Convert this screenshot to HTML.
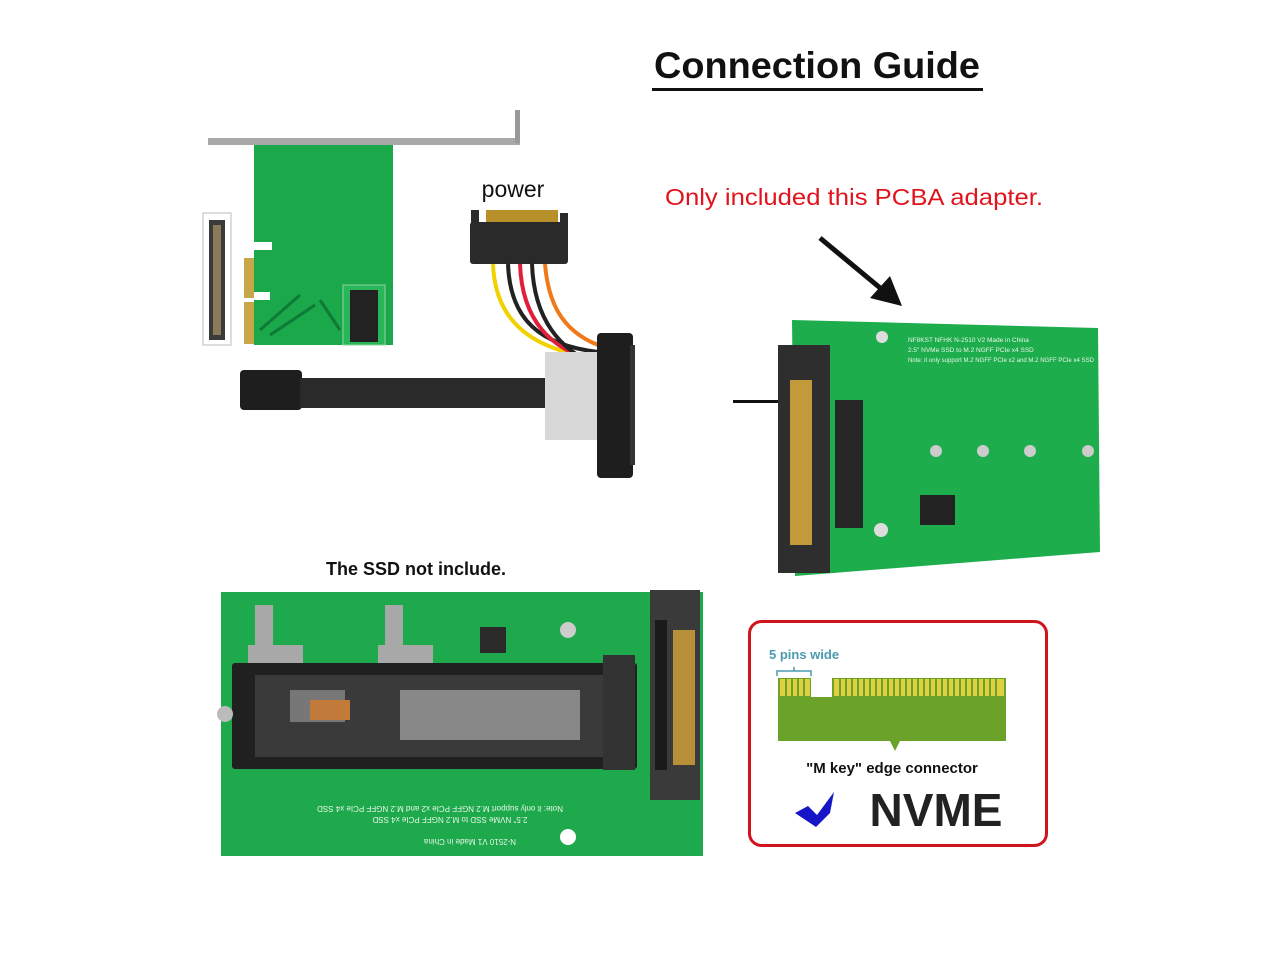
<!DOCTYPE html>
<html><head><meta charset="utf-8"><style>
html,body{margin:0;padding:0;background:#fff;}
svg{display:block;}
text{font-family:"Liberation Sans",sans-serif;}
</style></head><body>
<svg width="1280" height="960" viewBox="0 0 1280 960" xmlns="http://www.w3.org/2000/svg">
<rect width="1280" height="960" fill="#fff"/>
<text x="817" y="78" font-size="37" font-weight="bold" text-anchor="middle" fill="#111" textLength="326" lengthAdjust="spacingAndGlyphs">Connection Guide</text>
<rect x="652" y="88" width="331" height="3" fill="#111"/>

<rect x="208" y="138" width="312" height="7" fill="#a8a8a8"/>
<rect x="515" y="110" width="5" height="33" fill="#999"/>
<path d="M254 145 H393 V345 H254 V300 H270 V292 H254 V250 H272 V242 H254 Z" fill="#1aa84a"/>
<rect x="244" y="258" width="10" height="40" fill="#c8a64a"/>
<rect x="244" y="302" width="10" height="42" fill="#c8a64a"/>
<rect x="343" y="285" width="42" height="60" fill="#29b65a" stroke="#8fd49f"/>
<rect x="350" y="290" width="28" height="52" fill="#222"/>
<path d="M260 330 L300 295 M270 335 L315 305 M320 300 L340 330" stroke="#0f7a35" stroke-width="3"/>
<rect x="203" y="213" width="28" height="132" fill="#fff" stroke="#bbb"/>
<rect x="209" y="220" width="16" height="120" fill="#3a3a3a"/>
<rect x="213" y="225" width="8" height="110" fill="#8a7a5a"/>

<text x="513" y="197" font-size="23" text-anchor="middle" fill="#111">power</text>
<rect x="486" y="210" width="72" height="16" fill="#b8902a"/>
<rect x="470" y="222" width="98" height="42" rx="3" fill="#2a2a2a"/>
<rect x="471" y="210" width="8" height="16" fill="#2a2a2a"/>
<rect x="560" y="213" width="8" height="14" fill="#2a2a2a"/>
<path d="M493 264 C495 320 530 350 598 358" stroke="#f2d100" stroke-width="4" fill="none"/>
<path d="M508 264 C510 320 540 345 598 352" stroke="#222" stroke-width="4" fill="none"/>
<path d="M520 264 C522 320 550 350 598 362" stroke="#e0203a" stroke-width="4" fill="none"/>
<path d="M532 264 C534 320 560 350 598 366" stroke="#222" stroke-width="4" fill="none"/>
<path d="M545 264 C548 300 560 330 598 345" stroke="#f07a1a" stroke-width="4" fill="none"/>
<rect x="240" y="370" width="62" height="40" rx="4" fill="#1e1e1e"/>
<rect x="300" y="378" width="250" height="30" fill="#2a2a2a"/>
<rect x="545" y="352" width="55" height="88" fill="#d8d8d8"/>
<rect x="597" y="333" width="36" height="145" rx="4" fill="#1e1e1e"/>
<rect x="630" y="345" width="5" height="120" fill="#333"/>
<rect x="733" y="400" width="45" height="3" fill="#111"/>

<text x="854" y="205" font-size="23" text-anchor="middle" fill="#e0141c" textLength="378" lengthAdjust="spacingAndGlyphs">Only included this PCBA adapter.</text>
<line x1="820" y1="238" x2="885" y2="292" stroke="#111" stroke-width="5"/>
<polygon points="902,306 870,298 890,276" fill="#111"/>

<polygon points="792,320 1098,328 1100,552 795,576" fill="#1ead4c"/>
<rect x="778" y="345" width="52" height="228" fill="#2e2e2e"/>
<rect x="790" y="380" width="22" height="165" fill="#c29a3a"/>
<rect x="835" y="400" width="28" height="128" fill="#262626"/>
<rect x="920" y="495" width="35" height="30" fill="#222"/>
<circle cx="882" cy="337" r="6" fill="#ddd"/>
<circle cx="881" cy="530" r="7" fill="#ddd"/>
<circle cx="936" cy="451" r="6" fill="#ccc"/><circle cx="983" cy="451" r="6" fill="#ccc"/><circle cx="1030" cy="451" r="6" fill="#ccc"/><circle cx="1088" cy="451" r="6" fill="#ccc"/>
<text x="908" y="342" font-size="6.5" fill="#e8f5e8">NF8KST NFHK N-2510 V2 Made in China</text>
<text x="908" y="352" font-size="6.5" fill="#e8f5e8">2.5" NVMe SSD to M.2 NGFF PCIe x4 SSD</text>
<text x="908" y="362" font-size="6.5" fill="#e8f5e8" textLength="186" lengthAdjust="spacingAndGlyphs">Note: it only support M.2 NGFF PCIe x2 and M.2 NGFF PCIe x4 SSD</text>

<text x="416" y="575" font-size="18" font-weight="bold" text-anchor="middle" fill="#111">The SSD not include.</text>
<rect x="221" y="592" width="482" height="264" fill="#1eaa4c"/>
<rect x="255" y="605" width="18" height="45" fill="#a8a8a8"/><rect x="248" y="645" width="55" height="18" fill="#a8a8a8"/>
<rect x="385" y="605" width="18" height="45" fill="#a8a8a8"/><rect x="378" y="645" width="55" height="18" fill="#a8a8a8"/>
<rect x="480" y="627" width="26" height="26" fill="#2a2a2a"/>
<circle cx="568" cy="630" r="8" fill="#ccc"/>
<circle cx="568" cy="837" r="8" fill="#fff"/>
<rect x="232" y="663" width="405" height="106" rx="3" fill="#202020"/>
<rect x="255" y="675" width="360" height="82" fill="#3a3a3a"/>
<rect x="290" y="690" width="55" height="32" fill="#777"/>
<rect x="310" y="700" width="40" height="20" fill="#c27a3a"/>
<rect x="400" y="690" width="180" height="50" fill="#888"/>
<circle cx="225" cy="714" r="8" fill="#bbb"/>
<rect x="603" y="655" width="32" height="115" fill="#333"/>
<rect x="650" y="590" width="50" height="210" fill="#3a3a3a"/>
<rect x="655" y="620" width="12" height="150" fill="#1a1a1a"/>
<rect x="673" y="630" width="22" height="135" fill="#b8903a"/>
<text x="440" y="812" font-size="8" fill="#e8f5e8" text-anchor="middle" transform="rotate(180 440 809)">Note: it only support M.2 NGFF PCIe x2 and M.2 NGFF PCIe x4 SSD</text>
<text x="450" y="823" font-size="8" fill="#e8f5e8" text-anchor="middle" transform="rotate(180 450 820)">2.5" NVMe SSD to M.2 NGFF PCIe x4 SSD</text>
<text x="470" y="845" font-size="8" fill="#e8f5e8" text-anchor="middle" transform="rotate(180 470 842)">N-2510 V1 Made in China</text>

<rect x="749.5" y="621.5" width="297" height="224" rx="12" fill="#fff" stroke="#d0141c" stroke-width="3"/>
<text x="769" y="659" font-size="13" font-weight="bold" fill="#4a9ab0">5 pins wide</text>
<path d="M777 676 v-5 h17 v-4 v4 h17 v5" stroke="#4a9ab0" stroke-width="1.5" fill="none"/>
<path d="M778 678 H811 V697 H832 V678 H1006 V741 H900 L895 751 L890 741 H778 Z" fill="#6aa22a"/>
<g fill="#e0cf40">
<rect x="780" y="679" width="30" height="17"/>
<rect x="834" y="679" width="170" height="17"/>
</g>
<g stroke="#6aa22a" stroke-width="2">
<path d="M786 679v17M792 679v17M798 679v17M804 679v17"/>
<path d="M840 679v17M846 679v17M852 679v17M858 679v17M864 679v17M870 679v17M876 679v17M882 679v17M888 679v17M894 679v17M900 679v17M906 679v17M912 679v17M918 679v17M924 679v17M930 679v17M936 679v17M942 679v17M948 679v17M954 679v17M960 679v17M966 679v17M972 679v17M978 679v17M984 679v17M990 679v17M996 679v17"/>
</g>
<text x="892" y="773" font-size="15" font-weight="bold" text-anchor="middle" fill="#111">"M key" edge connector</text>
<path d="M795 813 L808 806 L817 815 L834 792 L830 813 L816 827 Z" fill="#1616c8"/>
<text x="936" y="826" font-size="46" font-weight="bold" text-anchor="middle" fill="#222">NVME</text>
</svg>
</body></html>
